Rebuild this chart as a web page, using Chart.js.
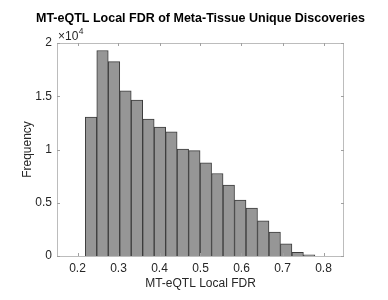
<!DOCTYPE html>
<html>
<head>
<meta charset="utf-8">
<script src="https://cdn.jsdelivr.net/npm/chart.js@4"></script>
<style>
html,body{margin:0;padding:0;background:#fff;}
#wrap{width:388px;height:300px;}
</style>
</head>
<body>
<div id="wrap"><canvas id="c" width="388" height="300"></canvas></div>
<script>
// Histogram bin edges (MT-eQTL Local FDR)
const binEdges = [0.219, 0.247, 0.275, 0.303, 0.331, 0.359, 0.387, 0.415, 0.443, 0.471, 0.499,
                  0.527, 0.555, 0.583, 0.611, 0.639, 0.667, 0.695, 0.723, 0.751, 0.779];
// Frequencies per bin
const frequencies = [13050, 19300, 18250, 15500, 14650, 12850, 12100, 11650, 10050, 9900,
                     8750, 7750, 6650, 5250, 4500, 3300, 2250, 1150, 350, 100];
const xTicks = [0.2, 0.3, 0.4, 0.5, 0.6, 0.7, 0.8];
const yTicks = [0, 5000, 10000, 15000, 20000];
const titleText = 'MT-eQTL Local FDR of Meta-Tissue Unique Discoveries';
const xLabel = 'MT-eQTL Local FDR';
const yLabel = 'Frequency';

const FONT = '"Liberation Sans", Arial, Helvetica, sans-serif';
const points = frequencies.map((v, i) => ({x: (binEdges[i] + binEdges[i + 1]) / 2, y: v}));

const decor = {
  id: 'decor',
  afterDatasetsDraw(chart) {
    const ctx = chart.ctx, a = chart.chartArea;
    const xs = chart.scales.x, ys = chart.scales.y;
    ctx.save();
    ctx.strokeStyle = '#bcbcbc';
    ctx.lineWidth = 1;
    ctx.strokeRect(Math.round(a.left) + 0.5, Math.round(a.top) + 0.5,
                   Math.round(a.right - a.left) - 1, Math.round(a.bottom - a.top));
    ctx.strokeStyle = '#a0a0a0';
    ctx.beginPath();
    xTicks.forEach(t => {
      const px = Math.round(xs.getPixelForValue(t)) + 0.5;
      ctx.moveTo(px, a.bottom); ctx.lineTo(px, a.bottom - 3);
      ctx.moveTo(px, a.top); ctx.lineTo(px, a.top + 3);
    });
    yTicks.forEach(t => {
      const py = Math.round(ys.getPixelForValue(t)) + 0.5;
      ctx.moveTo(a.left, py); ctx.lineTo(a.left + 3, py);
      ctx.moveTo(a.right, py); ctx.lineTo(a.right - 3, py);
    });
    ctx.stroke();
    ctx.restore();
  },
  afterDraw(chart) {
    const ctx = chart.ctx, a = chart.chartArea;
    ctx.save();
    ctx.fillStyle = '#000';
    ctx.font = 'bold 12.5px ' + FONT;
    ctx.textAlign = 'center';
    ctx.textBaseline = 'middle';
    ctx.fillText(titleText, (a.left + a.right) / 2, 19);
    ctx.fillStyle = '#262626';
    ctx.font = '12px ' + FONT;
    ctx.fillText(xLabel, (a.left + a.right) / 2, 284);
    ctx.save();
    ctx.translate(28, (a.top + a.bottom) / 2);
    ctx.rotate(-Math.PI / 2);
    ctx.fillText(yLabel, 0, 0);
    ctx.restore();
    ctx.textAlign = 'left';
    ctx.textBaseline = 'alphabetic';
    ctx.font = '12px ' + FONT;
    ctx.fillText('\u00d710', a.left + 1, 40);
    const w = ctx.measureText('\u00d710').width;
    ctx.font = '8.5px ' + FONT;
    ctx.fillText('4', a.left + 1 + w + 0.5, 33.5);
    ctx.restore();
  }
};

new Chart(document.getElementById('c'), {
  type: 'bar',
  data: {
    datasets: [{
      data: points,
      backgroundColor: 'rgb(150,150,150)',
      borderColor: 'rgb(60,60,60)',
      borderWidth: 1,
      barPercentage: 1,
      categoryPercentage: 1
    }]
  },
  options: {
    responsive: false,
    animation: false,
    devicePixelRatio: 1,
    layout: {padding: {left: 0, top: 43, right: 44, bottom: 0}},
    plugins: {legend: {display: false}, tooltip: {enabled: false}, title: {display: false}},
    scales: {
      x: {
        type: 'linear', min: 0.2, max: 0.8,
        afterBuildTicks: s => { s.ticks = xTicks.map(v => ({value: v})); },
        afterFit: s => { s.height = 44; },
        grid: {display: false, drawTicks: false},
        border: {display: false},
        ticks: {color: '#262626', font: {family: FONT, size: 12}, padding: 5, maxRotation: 0,
                callback: v => v.toFixed(1)}
      },
      y: {
        min: 0, max: 20000,
        afterBuildTicks: s => { s.ticks = yTicks.map(v => ({value: v})); },
        afterFit: s => { s.width = 57; },
        grid: {display: false, drawTicks: false},
        border: {display: false},
        ticks: {color: '#262626', font: {family: FONT, size: 12}, padding: 5,
                callback: v => String(v / 10000)}
      }
    }
  },
  plugins: [decor]
});
</script>
</body>
</html>
